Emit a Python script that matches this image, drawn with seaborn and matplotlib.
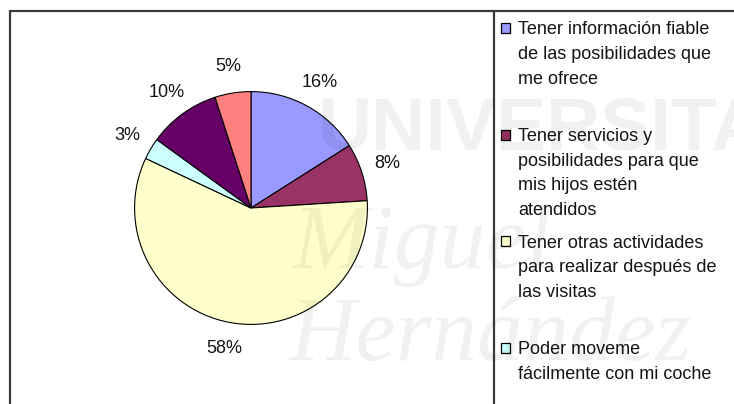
import matplotlib
matplotlib.use("Agg")
import matplotlib.pyplot as plt
from matplotlib.lines import Line2D
from matplotlib.patches import Rectangle
import seaborn as sns

# Survey shares (%), clockwise from 12 o'clock
shares = [16, 8, 58, 3, 10, 5]
slice_colors = ["#9999FF", "#993366", "#FFFFCC", "#CCFFFF", "#660066", "#FF8080"]
pct_labels = [f"{v}%" for v in shares]

legend_labels = [
    "Tener información fiable\nde las posibilidades que\nme ofrece",
    "Tener servicios y\nposibilidades para que\nmis hijos estén\natendidos",
    "Tener otras actividades\npara realizar después de\nlas visitas",
    "Poder moveme\nfácilmente con mi coche",
]

sns.set_theme(style="white")
plt.rcParams["font.family"] = ["Liberation Sans", "DejaVu Sans"]

W, H = 734, 404
fig = plt.figure(figsize=(W / 100, H / 100), dpi=100)
fig.patch.set_facecolor("white")


def fx(px):
    return px / W


def fy(py):
    return 1 - py / H


FS = 13
TXT = "#141414"

# Pie axes: centre (251, 208) px, radius 117 px
cx, cy, r = 251, 208, 117
ax = fig.add_axes([fx(cx - r), fy(cy + r), 2 * r / W, 2 * r / H])
ax.pie(
    shares,
    colors=slice_colors,
    startangle=90,
    counterclock=False,
    radius=1.0,
    labels=pct_labels,
    labeldistance=1.23,
    wedgeprops=dict(edgecolor="black", linewidth=0.8),
    textprops=dict(fontsize=FS, color=TXT),
)
for t in ax.texts:
    t.set_horizontalalignment("center")
    t.set_verticalalignment("center")
ax.set_xlim(-1.005, 1.005)
ax.set_ylim(-1.005, 1.005)
ax.axis("off")

# Chart frame and legend box borders
frame_col = "#3a3a3a"
for xs, ys in [
    ([9.5, W + 5], [10.5, 10.5]),
    ([9.5, 9.5], [10.5, H + 5]),
    ([493.5, 493.5], [10.5, H + 5]),
]:
    fig.add_artist(Line2D([fx(x) for x in xs], [fy(y) for y in ys],
                          transform=fig.transFigure, color=frame_col, lw=1.6))

# Legend entries, evenly spaced down the legend box
entry_top = [28, 134.5, 241, 347.5]
line_step = 24.6
for lab, col, y0 in zip(legend_labels, slice_colors, entry_top):
    fig.add_artist(Rectangle((fx(500.5), fy(y0 + 5)), 9 / W, 10 / H,
                             transform=fig.transFigure, facecolor=col,
                             edgecolor="black", lw=0.9))
    for i, line in enumerate(lab.split("\n")):
        fig.text(fx(518), fy(y0 + i * line_step), line, fontsize=FS,
                 color=TXT, ha="left", va="center_baseline")

# Faint university watermark across the chart
wm = dict(color="black", alpha=0.055, zorder=10)
fig.text(fx(318), fy(150), "UNIVERSITAS", fontsize=54, fontweight="bold",
         ha="left", va="baseline", family=["Liberation Sans"], **wm)
fig.text(fx(292), fy(268), "Miguel", fontsize=66, style="italic",
         ha="left", va="baseline", family=["Liberation Serif"], **wm)
fig.text(fx(290), fy(360), "Hernández", fontsize=66, style="italic",
         ha="left", va="baseline", family=["Liberation Serif"], **wm)

fig.savefig("out.png", dpi=100, facecolor="white")
